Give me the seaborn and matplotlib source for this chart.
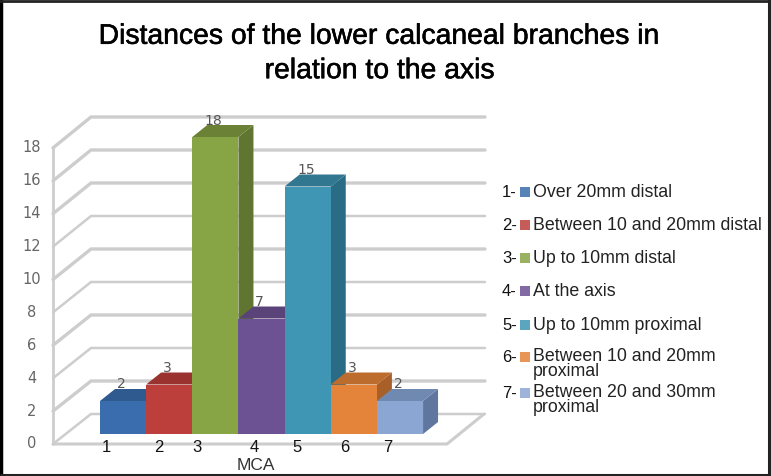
import matplotlib
matplotlib.use("Agg")
import matplotlib.pyplot as plt
import matplotlib.patheffects as pe
from matplotlib.patches import Polygon, Rectangle
import pandas as pd
import seaborn as sns

# datos
categorias = ["1", "2", "3", "4", "5", "6", "7"]
valores = [2, 3, 18, 7, 15, 3, 2]
leyenda = ["Over 20mm distal", "Between 10 and 20mm distal", "Up to 10mm distal",
           "At the axis", "Up to 10mm proximal", "Between 10 and 20mm\nproximal",
           "Between 20 and 30mm\nproximal"]
ticks_y = [0, 2, 4, 6, 8, 10, 12, 14, 16, 18]
colores = ["#3A6DAD", "#BC3F3B", "#87A545", "#6C5193", "#3E95B4", "#E3843A", "#8CA6D3"]
colores_lado = ["#2A4F80", "#8A2E2B", "#5F7530", "#4F3B6C", "#2A6C85", "#A85F28", "#5F769E"]
colores_techo = ["#2F5A90", "#9A3330", "#6B8236", "#5A4379", "#31778F", "#BC6C2D", "#6F89B0"]

# geometria en pixeles de la imagen
W, H = 771, 476
x0, ancho = 100, 46.15
y0, paso = 434, 16.5
dx, dy = 15, 12

sns.set_theme(style="white")
plt.rcParams["font.family"] = ["Liberation Sans", "DejaVu Sans"]

fig = plt.figure(figsize=(W / 100, H / 100), dpi=100)
ax = fig.add_axes([0, 0, 1, 1])
df = pd.DataFrame({"cat": categorias, "val": valores})
sns.barplot(data=df, x="cat", y="val", hue="cat", palette=colores, width=1,
            legend=False, saturation=1, linewidth=0, ax=ax)


# pasar de pixeles a datos
def px(x):
    return (x - x0) / ancho - 0.5


def py(y):
    return (y0 - y) / paso


ax.set_xlim(px(0), px(W))
ax.set_ylim(py(H), py(0))
ax.axis("off")

# paredes y rejilla
gris = "#CDCDCD"
for t in ticks_y:
    yb = 414 - paso * t
    lw = 2.4 if t in (2, 6, 10, 14, 16, 18) else 1.8
    ax.plot([px(53), px(91), px(485)], [py(444 - 16.45 * t), py(yb), py(yb)],
            color=gris, lw=lw, zorder=0, solid_joinstyle="miter")
    ax.text(px(32), py(444 - 16.45 * t), str(t), ha="center", va="center",
            fontsize=10.5, color="#666666", family="DejaVu Sans")
ax.plot([px(53), px(53)], [py(444), py(147)], color=gris, lw=2, zorder=0)
ax.plot([px(53), px(447), px(484)], [py(444), py(444), py(414)], color=gris, lw=2.2, zorder=0)

# caras laterales y superiores de cada barra
for i, (p, v) in enumerate(zip(ax.patches, valores)):
    p.set_zorder(2 * i + 3)
    xi, xd = p.get_x(), p.get_x() + p.get_width()
    ddx, ddy = dx / ancho, dy / paso
    ax.add_patch(Polygon([(xd, 0), (xd + ddx, ddy), (xd + ddx, v + ddy), (xd, v)],
                         color=colores_lado[i], lw=0, zorder=2 * i + 2))
    ax.add_patch(Polygon([(xi, v), (xi + ddx, v + ddy), (xd + ddx, v + ddy), (xd, v)],
                         color=colores_techo[i], lw=0, zorder=2 * i + 2))
    ax.text(i - 0.04, v + 1.0, str(v), ha="center", va="center", fontsize=10,
            color="#555555", family="DejaVu Sans", zorder=30)

# etiquetas del eje x, no estan centradas en el original
for c, xp in zip(categorias, [106, 159, 197, 254, 297, 345, 388]):
    ax.text(px(xp), py(447), c, ha="center", va="center", fontsize=12, color="#111111")
ax.text(px(255.5), py(466), "MCA", ha="center", va="center", fontsize=12.5, color="#333333")

# leyenda a mano
for i, (lab, yp) in enumerate(zip(leyenda, [192, 225, 258, 291, 325, 364, 400])):
    ym = yp if i < 5 else yp - 7
    ax.text(px(502), py(ym), f"{i + 1}-", ha="left", va="center",
            fontsize=12, color="#111111")
    ax.add_patch(Rectangle((px(520), py(ym + 5)), 10 / ancho, 10 / paso,
                           color=colores[i], lw=0, alpha=0.85))
    ax.text(px(533), py(yp), lab, ha="left", va="center", fontsize=12.8,
            color="#222222", linespacing=0.85)

titulo = fig.text(380 / W, 1 - 54 / H,
                  "Distances of the lower calcaneal branches in\nrelation to the axis",
                  ha="center", va="center", fontsize=20.4, color="black", linespacing=1.42)
titulo.set_path_effects([pe.withStroke(linewidth=0.4, foreground="black")])

# marco negro de la imagen
ax.plot([px(1), px(1)], [py(0), py(475)], color="black", lw=2.5, zorder=40)
ax.plot([px(0), px(771)], [py(0.5), py(0.5)], color="#222222", lw=2, zorder=40)
ax.plot([px(1), px(769), px(769)], [py(475), py(475), py(0)], color="#222222", lw=2.2, zorder=40)

plt.savefig("out.png", dpi=100)
plt.close()
